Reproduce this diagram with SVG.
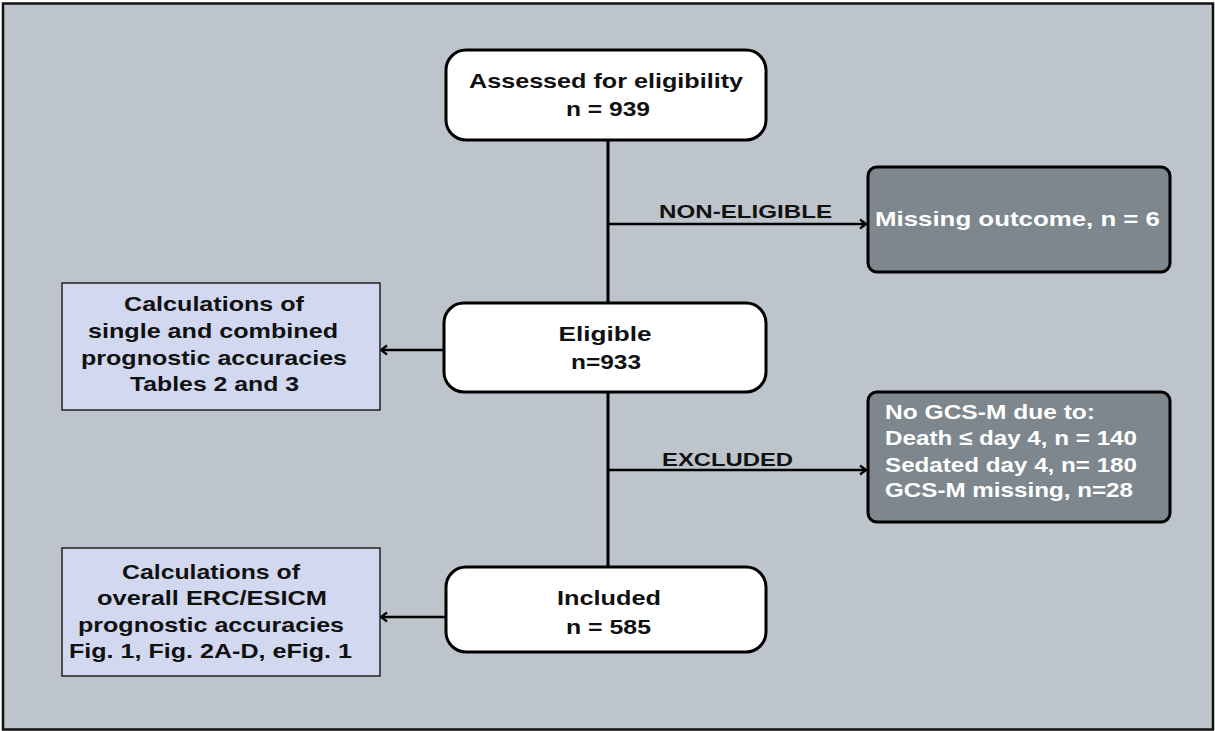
<svg xmlns="http://www.w3.org/2000/svg" width="1215" height="731" viewBox="0 0 1215 731">
<defs>
<marker id="ah" markerWidth="12" markerHeight="12" refX="9" refY="6" orient="auto" markerUnits="userSpaceOnUse">
<path d="M3,1.5 L9,6 L3,10.5" fill="none" stroke="#000" stroke-width="2.2"/>
</marker>
<style>
text{font-family:"Liberation Sans",Arial,sans-serif;font-weight:bold}
.t{font-size:21px;fill:#111;text-anchor:middle}
.w{font-size:20.5px;fill:#fff}
.lab{font-size:18px;fill:#111;text-anchor:middle}
.wb{fill:#fff;stroke:#000;stroke-width:3}
.gb{fill:#7e878d;stroke:#000;stroke-width:3}
.bb{fill:#d1d8ef;stroke:#222;stroke-width:1.5}
.ln{stroke:#000;stroke-width:3;fill:none}
.ar{stroke:#000;stroke-width:2.5;fill:none;marker-end:url(#ah)}
</style>
</defs>
<rect x="3" y="3.5" width="1210" height="726" fill="#bec4cb" stroke="#111" stroke-width="2.5"/>
<g id="connectors">
<line class="ln" x1="608" y1="140" x2="608" y2="303"/>
<line class="ln" x1="608" y1="392" x2="608" y2="567"/>
<line class="ar" x1="608" y1="224" x2="866" y2="224"/>
<line class="ar" x1="608" y1="470" x2="866" y2="470"/>
<line class="ar" x1="444" y1="350" x2="381" y2="350"/>
<line class="ar" x1="446" y1="617" x2="381" y2="617"/>
<text class="lab" x="745.5" y="218" textLength="173" lengthAdjust="spacingAndGlyphs">NON-ELIGIBLE</text>
<text class="lab" x="727.5" y="466" textLength="131" lengthAdjust="spacingAndGlyphs">EXCLUDED</text>
</g>
<g id="assessed">
<rect class="wb" x="446" y="50" width="320" height="90" rx="20"/>
<text class="t" x="606" y="88" textLength="274" lengthAdjust="spacingAndGlyphs">Assessed for eligibility</text>
<text class="t" x="608" y="116" textLength="84" lengthAdjust="spacingAndGlyphs">n = 939</text>
</g>
<g id="missing">
<rect class="gb" x="868" y="167" width="302" height="105" rx="9"/>
<text class="w" x="1017.5" y="226" text-anchor="middle" textLength="285" lengthAdjust="spacingAndGlyphs">Missing outcome, n = 6</text>
</g>
<g id="eligible">
<rect class="wb" x="444" y="303" width="322" height="89" rx="20"/>
<text class="t" x="605" y="341" textLength="93" lengthAdjust="spacingAndGlyphs">Eligible</text>
<text class="t" x="606" y="369" textLength="70" lengthAdjust="spacingAndGlyphs">n=933</text>
</g>
<g id="calc1">
<rect class="bb" x="62" y="283" width="318" height="127"/>
<text class="t" x="214" y="311" textLength="180" lengthAdjust="spacingAndGlyphs">Calculations of</text>
<text class="t" x="213" y="338" textLength="250" lengthAdjust="spacingAndGlyphs">single and combined</text>
<text class="t" x="214" y="365" textLength="266" lengthAdjust="spacingAndGlyphs">prognostic accuracies</text>
<text class="t" x="214.5" y="391" textLength="169" lengthAdjust="spacingAndGlyphs">Tables 2 and 3</text>
</g>
<g id="excluded">
<rect class="gb" x="868" y="392" width="302" height="130" rx="9"/>
<text class="w" x="885" y="419" textLength="210" lengthAdjust="spacingAndGlyphs">No GCS-M due to:</text>
<text class="w" x="885" y="445" textLength="252" lengthAdjust="spacingAndGlyphs">Death ≤ day 4, n = 140</text>
<text class="w" x="885" y="472" textLength="252" lengthAdjust="spacingAndGlyphs">Sedated day 4, n= 180</text>
<text class="w" x="885" y="497" textLength="248" lengthAdjust="spacingAndGlyphs">GCS-M missing, n=28</text>
</g>
<g id="included">
<rect class="wb" x="446" y="567" width="320" height="85" rx="20"/>
<text class="t" x="609" y="605" textLength="104" lengthAdjust="spacingAndGlyphs">Included</text>
<text class="t" x="608.5" y="634" textLength="85" lengthAdjust="spacingAndGlyphs">n = 585</text>
</g>
<g id="calc2">
<rect class="bb" x="62" y="548" width="318" height="128"/>
<text class="t" x="211" y="579" textLength="178" lengthAdjust="spacingAndGlyphs">Calculations of</text>
<text class="t" x="212" y="605" textLength="230" lengthAdjust="spacingAndGlyphs">overall ERC/ESICM</text>
<text class="t" x="211" y="632" textLength="266" lengthAdjust="spacingAndGlyphs">prognostic accuracies</text>
<text class="t" x="210.5" y="658" textLength="283" lengthAdjust="spacingAndGlyphs">Fig. 1, Fig. 2A-D, eFig. 1</text>
</g>
</svg>
